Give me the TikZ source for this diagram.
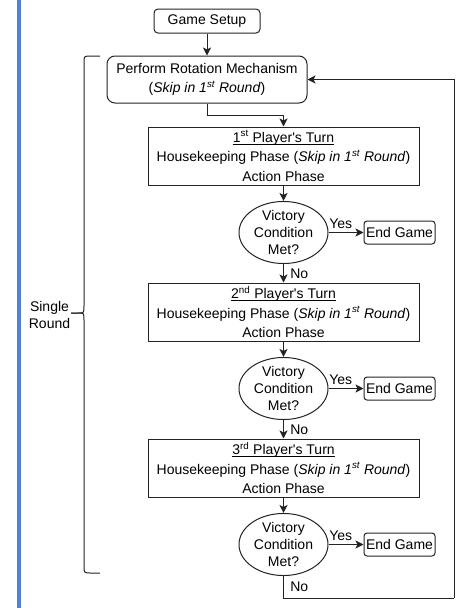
\documentclass[tikz,border=0pt]{standalone}
\usepackage{fontspec}
\setmainfont{Liberation Sans}
\usetikzlibrary{shapes.geometric,arrows.meta}

\definecolor{barblue}{RGB}{82,128,214}
\definecolor{linegray}{RGB}{35,35,35}

% underline close to the baseline
\newcommand{\turnline}[1]{\setbox0\hbox{#1}\rlap{\rule[-2.2pt]{\wd0}{0.8pt}}\box0}

\tikzset{
	flow/.style={draw=linegray, line width=1pt, -{Stealth[length=8pt,width=8pt,inset=2pt]}},
	loopline/.style={draw=linegray, line width=1pt},
	startbox/.style={draw=linegray, line width=1pt, rectangle, rounded corners=4pt, inner sep=0pt, align=center},
	turnbox/.style={draw=linegray, line width=1pt, rectangle, inner sep=0pt, align=center,
		minimum width=271pt, minimum height=58pt, font=\fontsize{14}{19.5}\selectfont},
	checkbox/.style={draw=linegray, line width=1pt, ellipse, inner sep=0pt, align=center,
		minimum width=89pt, minimum height=59pt},
	endbox/.style={draw=linegray, line width=1pt, rectangle, rounded corners=3pt, inner sep=0pt,
		minimum width=71pt, minimum height=23pt}
}

\begin{document}
\begin{tikzpicture}[x=1pt, y=-1pt, font=\fontsize{14}{16.8}\selectfont]
			
			% Parameters
			\def\colx{283.5}
			\def\rowgap{156}
			\def\endx{399.5}
			\def\skiptext{(\textit{Skip in 1\textsuperscript{st} Round})}
			\useasboundingbox (0,0) rectangle (461,608);
			
			% blue margin bar
			\fill[barblue] (17,0) rectangle (21,608);
			
			% start of the game
			\node[startbox, minimum width=106pt, minimum height=24pt] (setup) at (207,21) {Game Setup};
			\node[startbox, rounded corners=8pt, minimum width=200pt, minimum height=47pt,
				font=\fontsize{14}{19}\selectfont] (rotate) at (207,79.5)
				{Perform Rotation Mechanism\\\skiptext};
			
			% turns of the players
			\foreach \i/\ord in {1/st,2/nd,3/rd} {
				\node[turnbox] (turn\i) at (\colx,{\rowgap*\i})
					{\turnline{\i\textsuperscript{\ord} Player\textquotesingle s Turn}\\
					 Housekeeping Phase \skiptext\\Action Phase};
				\node[checkbox] (vic\i) at (\colx,{\rowgap*\i+76.5}) {Victory\\Condition\\Met?};
				\node[endbox] (end\i) at (\endx,{\rowgap*\i+76.5}) {End Game};
				
				\draw[flow] (turn\i) -- (vic\i);
				\draw[flow] (vic\i) -- node[above, pos=0.35] (yes\i) {Yes} (end\i);
			}
			
			% no branches
			\foreach \i in {1,2} {
				\pgfmathtruncatemacro\nxt{\i+1}
				\draw[flow] (vic\i) -- node[right=3pt] (no\i) {No} (turn\nxt);
			}
			
			% links
			\draw[flow] (setup) -- (rotate);
			\draw[flow] (rotate.south) -- ++(0,12) -| (turn1.north);
			
			% back to the next round
			\coordinate (back) at (454,598);
			\draw[loopline] (vic3.south) |- node[right=3pt, pos=0.25] (no3) {No} (back);
			\draw[flow] (back) |- (rotate.east);
			
			% brace of a single round
			\draw[loopline] (100,56) -- (91,56) .. controls (84,56) .. (84,63) -- (84,306)
				.. controls (84,313) .. (78,313) -- (71,313);
			\draw[loopline] (71,313) -- (78,313) .. controls (84,313) .. (84,320) -- (84,566)
				.. controls (84,573) .. (91,573) -- (100,573);
			\node[align=center] (round) at (49.5,315) {Single\\Round};
			
		\end{tikzpicture}
\end{document}
